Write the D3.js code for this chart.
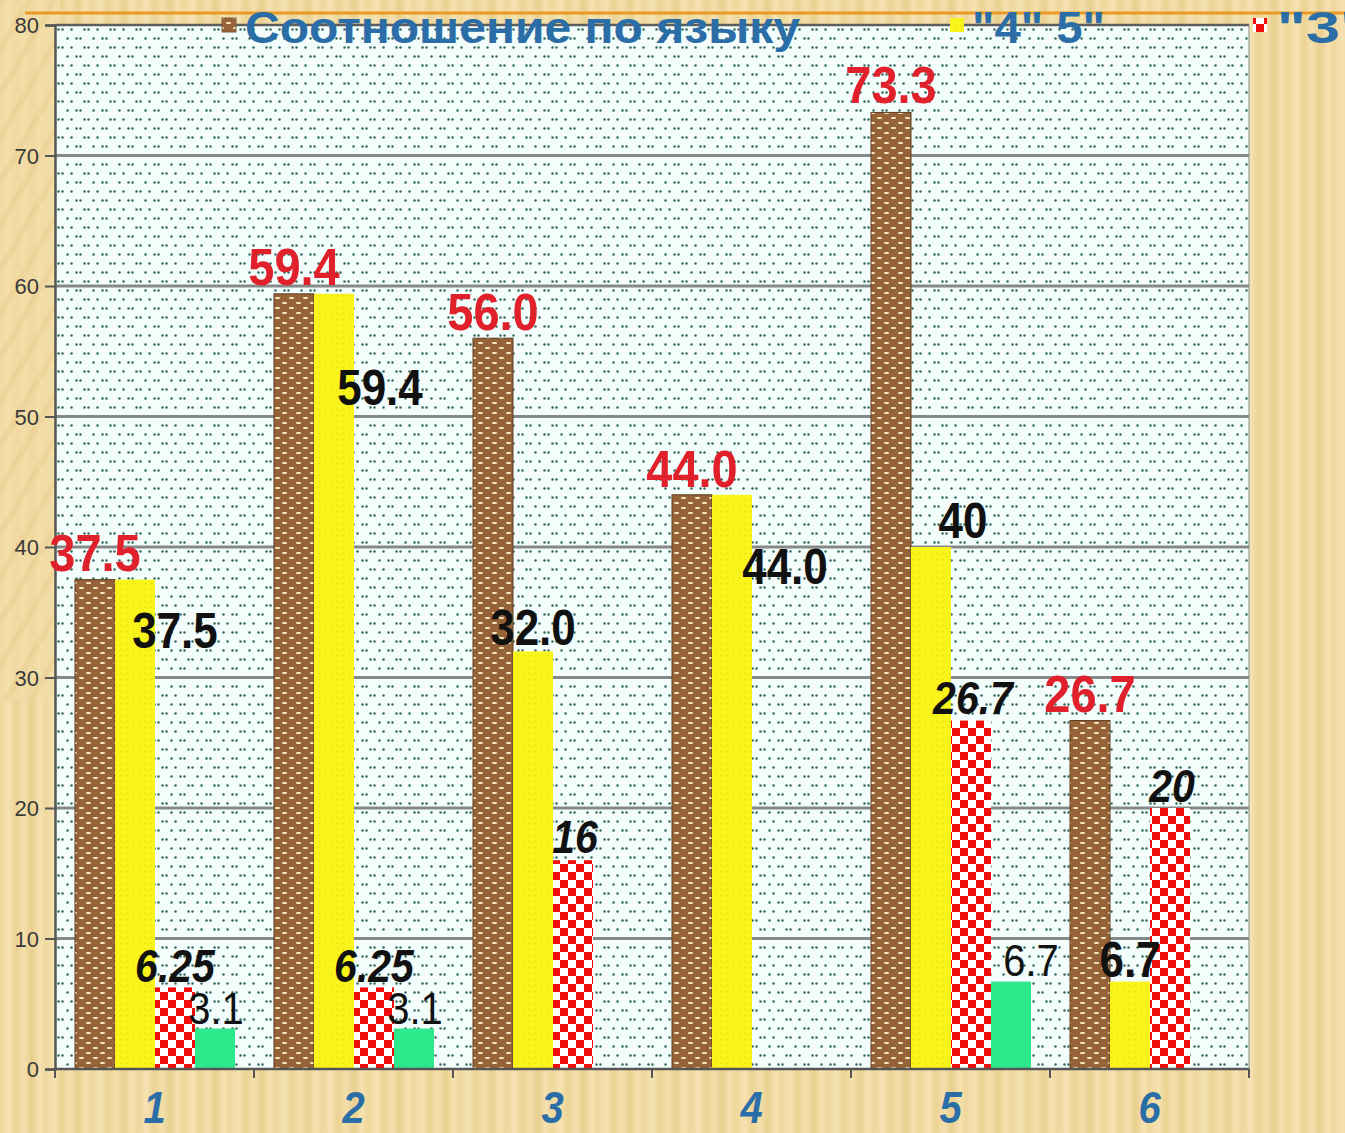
<!DOCTYPE html>
<html>
<head>
<meta charset="utf-8">
<script src="https://cdn.jsdelivr.net/npm/d3@7"></script>
<style>
  html, body { margin: 0; padding: 0; background: #f1dba3; }
  svg { display: block; }
</style>
</head>
<body>
<script>
// ---------------- DATA ----------------
const categories = ["1", "2", "3", "4", "5", "6"];
const seriesNames = ["Соотношение по языку", "\"4\" 5\"", "\"3\"", "\"2\""];
const seriesLang  = [37.5, 59.4, 56.0, 44.0, 73.3, 26.7];
const series45    = [37.5, 59.4, 32.0, 44.0, 40, 6.7];
const series3     = [6.25, 6.25, 16, null, 26.7, 20];
const series2     = [3.1, 3.1, null, null, 6.7, null];
const labelsLang  = ["37.5", "59.4", "56.0", "44.0", "73.3", "26.7"];
const labels45    = ["37.5", "59.4", "32.0", "44.0", "40", "6.7"];
const labels3     = ["6.25", "6.25", "16", "", "26.7", "20"];
const labels2     = ["3.1", "3.1", "", "", "6.7", ""];
const yTicks      = [0, 10, 20, 30, 40, 50, 60, 70, 80];

// ---------------- LAYOUT ----------------
const W = 1345, H = 1133;
const plot = { left: 55, right: 1249, top: 25, bottom: 1069 };

const svg = d3.select("body").append("svg").attr("width", W).attr("height", H);
const defs = svg.append("defs");

// wood background
const wood = defs.append("pattern").attr("id", "wood").attr("patternUnits", "userSpaceOnUse")
  .attr("width", 46).attr("height", 1133);
const wg = defs.append("linearGradient").attr("id", "woodg").attr("x1", 0).attr("x2", 1).attr("y1", 0).attr("y2", 0);
[["0%", "#efd79c"], ["18%", "#f6e3b2"], ["35%", "#ecd394"], ["52%", "#f4e0ac"], ["70%", "#e9cf8f"], ["86%", "#f5e2b0"], ["100%", "#efd79c"]]
  .forEach(([o, c]) => wg.append("stop").attr("offset", o).attr("stop-color", c));
wood.append("rect").attr("width", 46).attr("height", 1133).attr("fill", "url(#woodg)");
svg.append("rect").attr("width", W).attr("height", H).attr("fill", "url(#wood)");
// diagonal streaks top-left
const diag = defs.append("pattern").attr("id", "diag").attr("patternUnits", "userSpaceOnUse")
  .attr("width", 22).attr("height", 22).attr("patternTransform", "rotate(30)");
diag.append("rect").attr("width", 22).attr("height", 22).attr("fill", "#f3dda6");
diag.append("rect").attr("width", 6).attr("height", 22).attr("fill", "#e7cc8c").attr("opacity", 0.6);
svg.append("rect").attr("x", 0).attr("y", 0).attr("width", 60).attr("height", 700).attr("fill", "url(#diag)").attr("opacity", 0.7);

// plot dot pattern
const dots = defs.append("pattern").attr("id", "dots").attr("patternUnits", "userSpaceOnUse")
  .attr("x", plot.left).attr("y", plot.top).attr("width", 26).attr("height", 18);
dots.append("rect").attr("width", 26).attr("height", 18).attr("fill", "#f3fdfc");
[[3.5, 4.5], [7.5, 4.5], [16.5, 4.5], [12.5, 13.5], [21.5, 13.5], [25.5, 13.5], [-0.5, 13.5]].forEach(([x, y]) =>
  dots.append("circle").attr("cx", x).attr("cy", y).attr("r", 1.25).attr("fill", "#356a5c"));

// brown bar pattern
const brown = defs.append("pattern").attr("id", "brownPat").attr("patternUnits", "userSpaceOnUse")
  .attr("width", 14).attr("height", 10);
brown.append("rect").attr("width", 14).attr("height", 10).attr("fill", "#966339");
[[2, 2], [9, 7], [-5, 7]].forEach(([x, y]) =>
  brown.append("rect").attr("x", x).attr("y", y).attr("width", 5).attr("height", 2).attr("rx", 1).attr("fill", "#f4e2bc"));

// yellow pattern
const yel = defs.append("pattern").attr("id", "yelPat").attr("patternUnits", "userSpaceOnUse")
  .attr("width", 6).attr("height", 6);
yel.append("rect").attr("width", 6).attr("height", 6).attr("fill", "#f9f41c");
yel.append("circle").attr("cx", 1.5).attr("cy", 1.5).attr("r", 0.8).attr("fill", "#e9e000");

// checker pattern
const chk = defs.append("pattern").attr("id", "chkPat").attr("patternUnits", "userSpaceOnUse")
  .attr("width", 16).attr("height", 16);
chk.append("rect").attr("width", 16).attr("height", 16).attr("fill", "#ffffff");
chk.append("rect").attr("width", 8).attr("height", 8).attr("fill", "#f20d0d");
chk.append("rect").attr("x", 8).attr("y", 8).attr("width", 8).attr("height", 8).attr("fill", "#f20d0d");

const fills = ["url(#brownPat)", "url(#yelPat)", "url(#chkPat)", "#2ee88c"];
const strokes = ["#5e3c20", "none", "none", "none"];

// ---------------- SCALES ----------------
const x = d3.scaleBand().domain(categories).range([plot.left, plot.right]).padding(0);
const xInner = d3.scaleBand().domain(d3.range(4)).range([20, x.bandwidth() - 19]).padding(0);
const y = d3.scaleLinear().domain([0, 80]).range([plot.bottom, plot.top]);

// plot background
svg.append("rect").attr("x", plot.left).attr("y", plot.top)
  .attr("width", plot.right - plot.left).attr("height", plot.bottom - plot.top)
  .attr("fill", "url(#dots)");

// gridlines
svg.append("g").selectAll("line").data(yTicks.filter(t => t > 0 && t < 80)).join("line")
  .attr("x1", plot.left).attr("x2", plot.right)
  .attr("y1", d => y(d)).attr("y2", d => y(d))
  .attr("stroke", "#858a88").attr("stroke-width", 3);

// border top/right
svg.append("line").attr("x1", plot.left).attr("x2", plot.right).attr("y1", plot.top).attr("y2", plot.top)
  .attr("stroke", "#5d5d5d").attr("stroke-width", 2.5);
svg.append("line").attr("x1", plot.right).attr("x2", plot.right).attr("y1", plot.top).attr("y2", plot.bottom)
  .attr("stroke", "#8a8a8a").attr("stroke-width", 1);

// ---------------- BARS ----------------
const allSeries = [seriesLang, series45, series3, series2];
const allLabels = [labelsLang, labels45, labels3, labels2];
const barData = [];
allSeries.forEach((vals, s) => vals.forEach((v, i) => {
  if (v !== null && v !== undefined) barData.push({ s, i, v, cat: categories[i] });
}));
svg.append("g").selectAll("rect").data(barData).join("rect")
  .attr("x", d => x(d.cat) + xInner(d.s))
  .attr("y", d => y(d.v))
  .attr("width", xInner.bandwidth())
  .attr("height", d => y(0) - y(d.v))
  .attr("fill", d => fills[d.s])
  .attr("stroke", d => strokes[d.s])
  .attr("stroke-width", 1);

// ---------------- AXES ----------------
const yAxis = svg.append("g").attr("transform", `translate(${plot.left},0)`)
  .call(d3.axisLeft(y).tickValues(yTicks).tickSize(10).tickPadding(6).tickFormat(d3.format("d")));
yAxis.select(".domain").attr("stroke", "#555").attr("stroke-width", 2.5);
yAxis.selectAll(".tick line").attr("stroke", "#555").attr("stroke-width", 2);
yAxis.selectAll(".tick text").attr("fill", "#3a3a3a")
  .style("font-family", "'Liberation Sans', Arial, sans-serif").style("font-size", "22px")
  .attr("dy", "0.36em");

const xAxis = svg.append("g").attr("transform", `translate(0,${plot.bottom})`);
xAxis.append("line").attr("x1", plot.left).attr("x2", plot.right).attr("y1", 0).attr("y2", 0)
  .attr("stroke", "#555").attr("stroke-width", 2.5);
xAxis.selectAll("line.tk").data(categories.concat(["end"])).join("line").attr("class", "tk")
  .attr("x1", d => d === "end" ? plot.right : x(d)).attr("x2", d => d === "end" ? plot.right : x(d))
  .attr("y1", 0).attr("y2", 9).attr("stroke", "#555").attr("stroke-width", 2);
xAxis.selectAll("text").data(categories).join("text")
  .attr("transform", d => `translate(${x(d) + x.bandwidth() / 2},${1123 - plot.bottom}) scale(1,1.1)`)
  .attr("text-anchor", "middle")
  .attr("fill", "#2b6da6")
  .style("font-family", "'Liberation Sans', Arial, sans-serif")
  .style("font-size", "40px").style("font-weight", "bold").style("font-style", "italic")
  .text(d => d);

// ---------------- VALUE LABELS ----------------
// per-series text styles and hand placement offsets (px) relative to bar top-centre
const labelStyle = [
  { color: "#e0202a", size: 47, weight: "bold", italic: false },
  { color: "#111111", size: 44, weight: "bold", italic: false },
  { color: "#111111", size: 41, weight: "bold", italic: true },
  { color: "#111111", size: 40, weight: "normal", italic: false }
];
const labelDx = [
  [0, 0, 0, 0, 0, 0],
  [40, 46, 0, 53, 32, 0],
  [0, 0, 2, 0, 2, 2],
  [1, 1, 0, 0, 20, 0]
];
const labelDy = [
  [-9, -9, -8, -8, -9, -9],
  [68, 111, -6, 89, -9, -5],
  [-5, -5, -7, 0, -7, -6],
  [-5, -5, 0, 0, -6, 0]
];
const lblData = [];
allLabels.forEach((labs, s) => labs.forEach((t, i) => {
  if (t) lblData.push({ s, i, t, v: allSeries[s][i], cat: categories[i] });
}));
svg.append("g").selectAll("text").data(lblData).join("text")
  .attr("transform", d => {
    const cx = x(d.cat) + xInner(d.s) + xInner.bandwidth() / 2 + labelDx[d.s][d.i];
    const by = y(d.v) + labelDy[d.s][d.i];
    return `translate(${cx},${by}) scale(1,1.12)`;
  })
  .attr("text-anchor", "middle")
  .attr("fill", d => labelStyle[d.s].color)
  .style("font-family", "'Liberation Sans', Arial, sans-serif")
  .style("font-size", d => labelStyle[d.s].size + "px")
  .style("font-weight", d => labelStyle[d.s].weight)
  .style("font-style", d => labelStyle[d.s].italic ? "italic" : "normal")
  .text(d => d.t);

// ---------------- LEGEND + TOP LINE ----------------
svg.append("line").attr("x1", 25).attr("x2", W).attr("y1", 13).attr("y2", 13)
  .attr("stroke", "#ea9a24").attr("stroke-width", 3);

const legendItems = [
  { s: 0, sx: 222, tx: 245, len: 555 },
  { s: 1, sx: 950, tx: 972, len: 133 },
  { s: 2, sx: 1253, tx: 1277, len: 92 }
];
const lg = svg.append("g");
lg.selectAll("rect").data(legendItems).join("rect")
  .attr("x", d => d.sx).attr("y", 18).attr("width", 14).attr("height", 14)
  .attr("fill", d => fills[d.s]).attr("stroke", "#7a5a3a").attr("stroke-width", d => d.s === 0 ? 1 : 0);
lg.selectAll("text").data(legendItems).join("text")
  .attr("x", d => d.tx).attr("y", 43)
  .attr("textLength", d => d.len).attr("lengthAdjust", "spacingAndGlyphs")
  .attr("fill", "#2b6da6")
  .style("font-family", "'Liberation Sans', Arial, sans-serif")
  .style("font-size", "44px").style("font-weight", "bold")
  .text(d => seriesNames[d.s]);
</script>
</body>
</html>
